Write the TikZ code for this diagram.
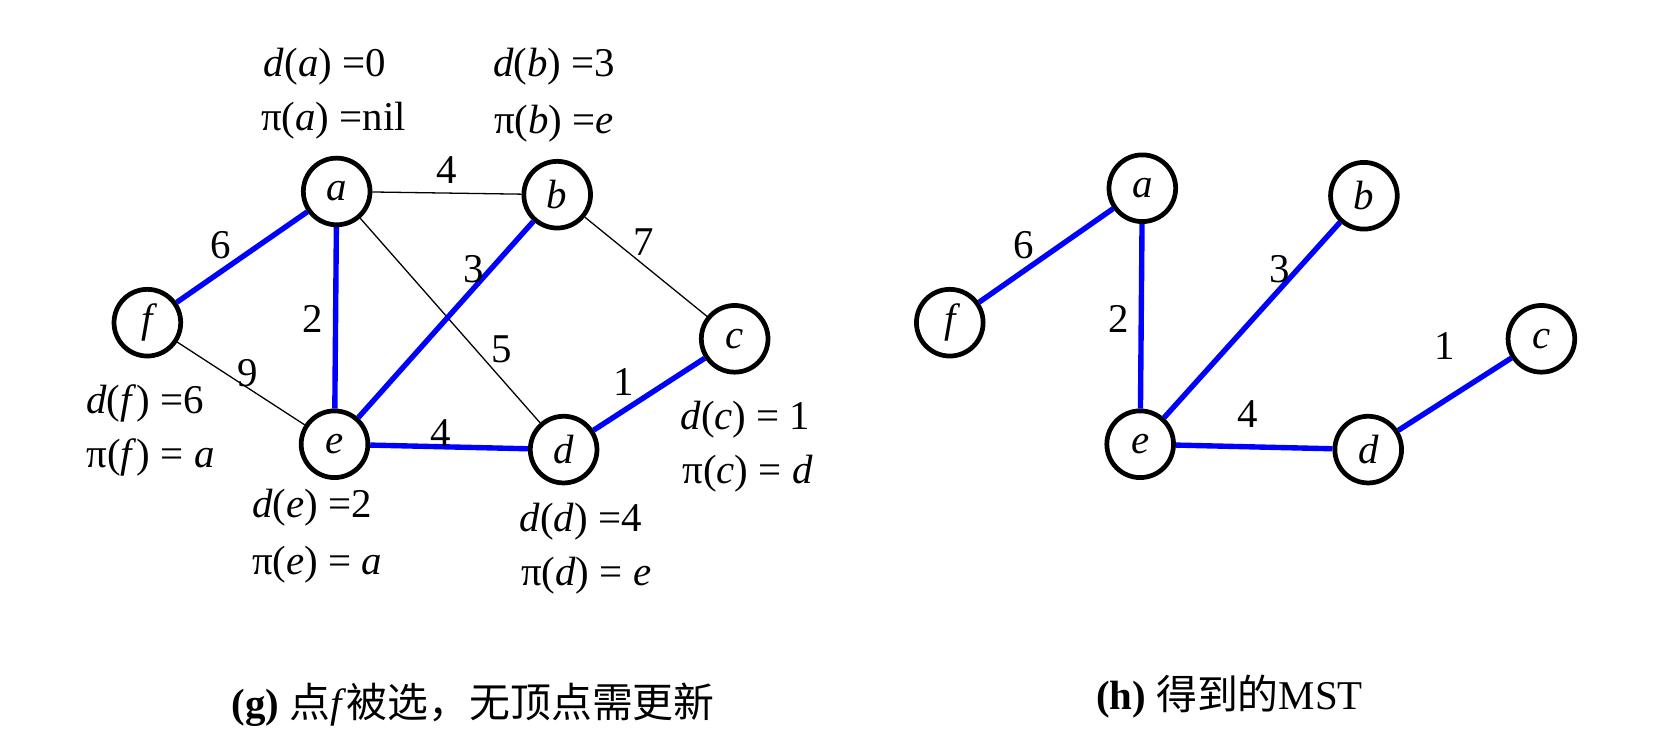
\documentclass[tikz,border=0pt]{standalone}
\usepackage{fontspec}
\setmainfont{Liberation Serif}
\newfontfamily\cjk{Noto Sans CJK SC}
\begin{document}
\begin{tikzpicture}[x=0.5pt,y=-0.5pt,
  vtx/.style={circle,draw,line width=2.2pt,minimum size=31pt,inner sep=0pt,font=\fontsize{19}{22}\selectfont\itshape},
  lbl/.style={font=\fontsize{19}{22}\selectfont,inner sep=0pt},
  blue/.style={draw=blue,line width=2.5pt},
  thin/.style={draw=black,line width=0.6pt}]
\useasboundingbox (0,0) rectangle (1560,694);
\node[vtx] (a) at (313,178) {a};
\node[vtx] (b) at (518,181) {b};
\node[vtx] (c) at (683,315) {c};
\node[vtx] (d) at (524,418) {d};
\node[vtx] (e) at (311,413) {e};
\node[vtx] (f) at (137,300) {f};
\path[thin] (a)--(b) (a)--(d) (b)--(c) (f)--(e);
\path[blue] (a)--(f) (a)--(e) (e)--(b) (e)--(d) (d)--(c);
\node[lbl] (la1) at (302,62) {\textit{d}(\textit{a}) =0};
\node[lbl] (la2) at (310,112) {π(\textit{a}) =nil};
\node[lbl] (lb1) at (515,62) {\textit{d}(\textit{b}) =3};
\node[lbl] (lb2) at (515,115) {π(\textit{b}) =\textit{e}};
\node[lbl] (lf1) at (135,375) {\textit{d}(\textit{f}) =6};
\node[lbl] (lf2) at (140,425) {π(\textit{f}) = \textit{a}};
\node[lbl] (le1) at (290,472) {\textit{d}(\textit{e}) =2};
\node[lbl] (le2) at (295,525) {π(\textit{e}) = \textit{a}};
\node[lbl] (ld1) at (540,485) {\textit{d}(\textit{d}) =4};
\node[lbl] (ld2) at (545,535) {π(\textit{d}) = \textit{e}};
\node[lbl] (lc1) at (693,390) {\textit{d}(\textit{c}) = 1};
\node[lbl] (lc2) at (695,440) {π(\textit{c}) = \textit{d}};
\node[lbl] (w1) at (415,158) {4};
\node[lbl] (w2) at (205,228) {6};
\node[lbl] (w3) at (291,297) {2};
\node[lbl] (w4) at (440,250) {3};
\node[lbl] (w5) at (598,225) {7};
\node[lbl] (w6) at (466,325) {5};
\node[lbl] (w7) at (230,347) {9};
\node[lbl] (w8) at (580,355) {1};
\node[lbl] (w9) at (410,403) {4};
\node[vtx] (A) at (1062,175) {a};
\node[vtx] (B) at (1268,182) {b};
\node[vtx] (C) at (1433,315) {c};
\node[vtx] (D) at (1272,418) {d};
\node[vtx] (E) at (1060,413) {e};
\node[vtx] (F) at (883,300) {f};
\path[blue] (A)--(F) (A)--(E) (E)--(B) (E)--(D) (D)--(C);
\node[lbl] (W1) at (952,228) {6};
\node[lbl] (W2) at (1040,297) {2};
\node[lbl] (W3) at (1190,250) {3};
\node[lbl] (W4) at (1343,322) {1};
\node[lbl] (W5) at (1160,385) {4};
\node[lbl] (cg) at (440,655) {\textbf{(g)} {\cjk 点}\textit{f}{\cjk 被选，无顶点需更新}};
\node[lbl] (ch) at (1143,648) {\textbf{(h)} {\cjk 得到的}MST};
\end{tikzpicture}
\end{document}
